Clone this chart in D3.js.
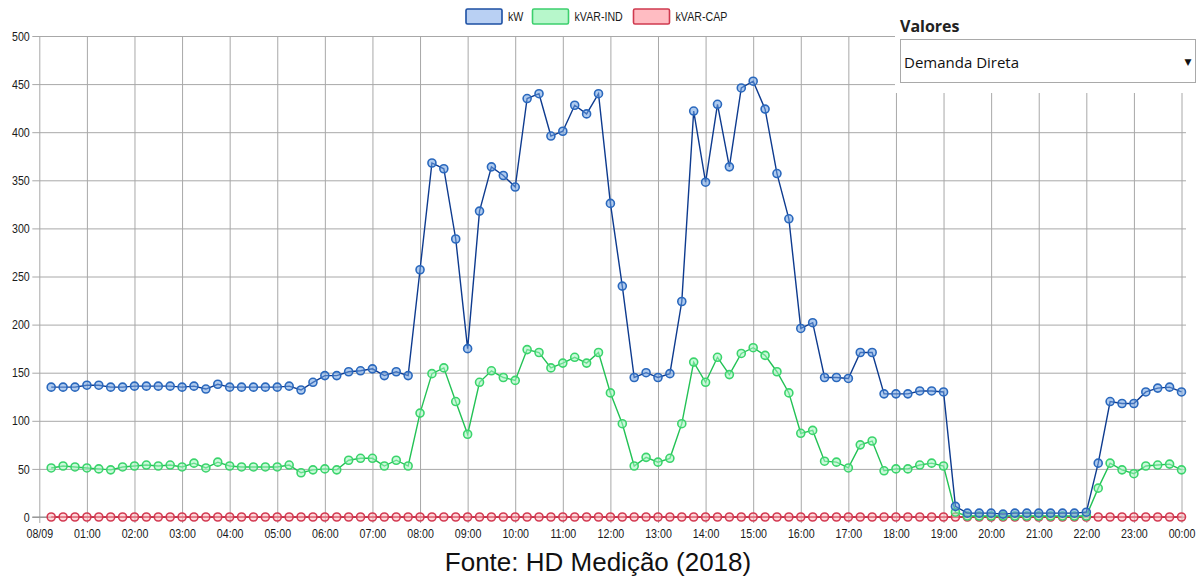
<!DOCTYPE html>
<html>
<head>
<meta charset="utf-8">
<script src="https://cdn.jsdelivr.net/npm/d3@7"></script>
<style>
  html, body { margin: 0; padding: 0; background: #fff; }
  svg { display: block; }
</style>
</head>
<body>
<svg id="chart" width="1203" height="577"></svg>
<script>
// ---------- DATA ----------
const times = [
  "00:15","00:30","00:45","01:00","01:15","01:30","01:45","02:00","02:15","02:30","02:45","03:00",
  "03:15","03:30","03:45","04:00","04:15","04:30","04:45","05:00","05:15","05:30","05:45","06:00",
  "06:15","06:30","06:45","07:00","07:15","07:30","07:45","08:00","08:15","08:30","08:45","09:00",
  "09:15","09:30","09:45","10:00","10:15","10:30","10:45","11:00","11:15","11:30","11:45","12:00",
  "12:15","12:30","12:45","13:00","13:15","13:30","13:45","14:00","14:15","14:30","14:45","15:00",
  "15:15","15:30","15:45","16:00","16:15","16:30","16:45","17:00","17:15","17:30","17:45","18:00",
  "18:15","18:30","18:45","19:00","19:15","19:30","19:45","20:00","20:15","20:30","20:45","21:00",
  "21:15","21:30","21:45","22:00","22:15","22:30","22:45","23:00","23:15","23:30","23:45","24:00"
];

const kW = [
  135,135,135,137,137,135,135,136,136,136,136,135,136,133,138,135,135,
  135,135,135,136,132,140,147,147,151,152,154,147,151,147,
  257,368,362,289,175,318,364,355,343,435,440,396,401,428,419,440,
  326,240,145,150,145,149,224,422,
  348,429,364,446,453,424,357,310,196,202,145,145,144,171,171,128,128,128,131,131,130,
  11,4,4,4,3,4,4,4,4,4,4,5,
  56,120,118,118,130,134,135,130
];

const kVARInd = [
  51,53,52,51,50,49,52,53,54,53,54,52,56,51,57,53,52,
  52,52,52,54,46,49,50,49,59,61,61,53,59,53,
  108,149,155,120,86,140,152,145,142,174,171,155,160,166,160,171,
  129,97,53,62,57,61,97,161,
  140,166,148,170,176,168,151,129,87,90,58,57,51,75,79,48,50,50,54,56,53,
  5,1,1,1,1,1,1,1,1,1,1,1,
  30,56,49,45,53,54,55,49
];

const kVARCap = [
  0,0,0,0,0,0,0,0,0,0,0,0,0,0,0,0,0,0,0,0,0,0,0,0,
  0,0,0,0,0,0,0,0,0,0,0,0,0,0,0,0,0,0,0,0,0,0,0,0,
  0,0,0,0,0,0,0,0,0,0,0,0,0,0,0,0,0,0,0,0,0,0,0,0,
  0,0,0,0,0,0,0,0,0,0,0,0,0,0,0,0,0,0,0,0,0,0,0,0
];

const xTickLabels = ["08/09","01:00","02:00","03:00","04:00","05:00","06:00","07:00","08:00",
  "09:00","10:00","11:00","12:00","13:00","14:00","15:00","16:00","17:00","18:00","19:00",
  "20:00","21:00","22:00","23:00","00:00"];
const yTicks = [0,50,100,150,200,250,300,350,400,450,500];

const seriesNames = ["kW","kVAR-IND","kVAR-CAP"];
const footerText = "Fonte: HD Medição (2018)";
const selectLabel = "Valores";
const selectValue = "Demanda Direta";

// ---------- LAYOUT ----------
const svg = d3.select("#chart");
const W = 1203, H = 577;
const plot = { left: 39.3, right: 1181.5, top: 36, bottom: 517, gridRight: 1186 };
const SX = 0.82; // horizontal compression to mimic a narrow sans font

const toMin = t => { const [h, m] = t.split(":").map(Number); return h * 60 + m; };

const x = d3.scaleLinear().domain([0, 1440]).range([plot.left, plot.right]);
const y = d3.scaleLinear().domain([0, 500]).range([plot.bottom, plot.top]);

const sans = "'Liberation Sans', Arial, sans-serif";
const gridColor = "#a8a8a8";

// grid: horizontal
const gY = svg.append("g").attr("class", "y-axis")
  .attr("transform", `translate(${plot.left},0)`)
  .call(d3.axisLeft(y).tickValues(yTicks).tickSize(-(plot.gridRight - plot.left)).tickSizeOuter(0).tickPadding(3));
gY.select(".domain").remove();
gY.selectAll(".tick line").attr("stroke", gridColor).attr("stroke-width", 1).attr("x1", -7);
gY.selectAll(".tick text").attr("font-family", sans).attr("font-size", 13).attr("fill", "#1a1a1a")
  .attr("x", -9.5 / SX).attr("transform", `scale(${SX},1)`);

// grid: vertical
const gX = svg.append("g").attr("class", "x-axis")
  .attr("transform", `translate(0,${plot.bottom})`)
  .call(d3.axisBottom(x).tickValues(d3.range(0, 1441, 60))
    .tickFormat((d, i) => xTickLabels[i])
    .tickSize(-(plot.bottom - plot.top)).tickSizeOuter(0).tickPadding(12));
gX.select(".domain").remove();
gX.selectAll(".tick line").attr("stroke", gridColor).attr("stroke-width", 1).attr("y1", 6);
gX.selectAll(".tick text").attr("font-family", sans).attr("font-size", 13).attr("fill", "#1a1a1a")
  .attr("transform", `scale(${SX},1)`);

// zero line
svg.append("line")
  .attr("x1", plot.left - 7).attr("x2", plot.gridRight)
  .attr("y1", y(0)).attr("y2", y(0))
  .attr("stroke", "#8a8a8a").attr("stroke-width", 1.2);

// ---------- SERIES ----------
const styles = {
  "kW":       { line: "#0e3b8f", stroke: "#2a68bd", fill: "rgba(110,160,225,0.55)", box: "#b9d0f3", boxStroke: "#1c4fa3" },
  "kVAR-IND": { line: "#23c255", stroke: "#3bd46c", fill: "rgba(160,245,190,0.55)", box: "#b7f7cb", boxStroke: "#3ccf6d" },
  "kVAR-CAP": { line: "#c8102e", stroke: "#d33a52", fill: "rgba(255,185,190,0.55)", box: "#ffbcc2", boxStroke: "#cf3a4f" }
};
const seriesData = { "kW": kW, "kVAR-IND": kVARInd, "kVAR-CAP": kVARCap };

const line = d3.line().x(d => x(d.t)).y(d => y(d.v));

["kVAR-CAP", "kVAR-IND", "kW"].forEach(name => {
  const pts = times.map((t, i) => ({ t: toMin(t), v: seriesData[name][i] }));
  const st = styles[name];
  const g = svg.append("g").attr("class", "series");
  g.append("path").datum(pts).attr("d", line)
    .attr("fill", "none").attr("stroke", st.line).attr("stroke-width", 1.4);
  g.selectAll("circle").data(pts).join("circle")
    .attr("cx", d => x(d.t)).attr("cy", d => y(d.v)).attr("r", 4)
    .attr("fill", st.fill).attr("stroke", st.stroke).attr("stroke-width", 1.6);
});

// ---------- LEGEND ----------
const legendX = [466, 532.5, 633.5];
const legend = svg.append("g").attr("class", "legend");
seriesNames.forEach((name, i) => {
  const st = styles[name];
  legend.append("rect").attr("x", legendX[i]).attr("y", 9).attr("width", 36).attr("height", 15)
    .attr("rx", 1.5).attr("fill", st.box).attr("stroke", st.boxStroke).attr("stroke-width", 1.6);
  legend.append("text").attr("x", (legendX[i] + 42) / SX).attr("y", 21.5)
    .attr("transform", `scale(${SX},1)`)
    .attr("font-family", sans).attr("font-size", 13).attr("fill", "#1a1a1a").text(name);
});

// ---------- DROPDOWN PANEL ----------
svg.append("rect").attr("x", 895).attr("y", 0).attr("width", W - 895).attr("height", 93).attr("fill", "#fff");
svg.append("text").attr("x", 900).attr("y", 31.5)
  .attr("font-family", "'Open Sans', 'Noto Sans', sans-serif").attr("font-weight", 700)
  .attr("font-size", 16).attr("fill", "#222").text(selectLabel);
svg.append("rect").attr("x", 900.5).attr("y", 39.5).attr("width", 295).attr("height", 43)
  .attr("fill", "#fff").attr("stroke", "#a9a9a9").attr("stroke-width", 1);
svg.append("text").attr("x", 904).attr("y", 68)
  .attr("font-family", "'Open Sans', 'Noto Sans', sans-serif")
  .attr("font-size", 15).attr("fill", "#111").text(selectValue);
svg.append("text").attr("x", 1188).attr("y", 65).attr("text-anchor", "middle")
  .attr("font-family", "'DejaVu Sans', sans-serif").attr("font-size", 9).attr("fill", "#111").text("▼");

// ---------- FOOTER ----------
svg.append("text").attr("x", 598).attr("y", 571).attr("text-anchor", "middle")
  .attr("font-family", sans).attr("font-size", 26)
  .attr("fill", "#111").text(footerText);
</script>
</body>
</html>
